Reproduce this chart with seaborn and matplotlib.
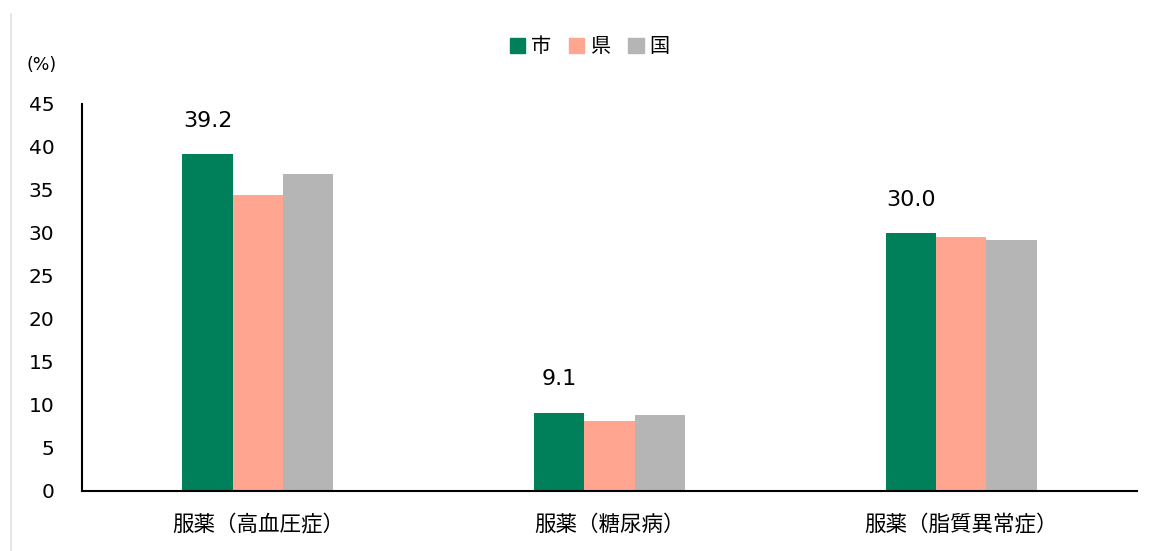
import pandas as pd
import matplotlib.pyplot as plt
import matplotlib.patches as mpatches
import seaborn as sns

sns.set_style("white")
plt.rcParams["font.family"] = ["DejaVu Sans", "Noto Sans CJK JP"]
plt.rcParams["text.color"] = "black"
plt.rcParams["xtick.color"] = "black"
plt.rcParams["ytick.color"] = "black"

# データ
categories = ["服薬（高血圧症）", "服薬（糖尿病）", "服薬（脂質異常症）"]
areas = ["市", "県", "国"]
shi = [39.2, 9.1, 30.0]
ken = [34.4, 8.1, 29.5]
kuni = [36.9, 8.8, 29.2]
colors = ["#00805A", "#FFA590", "#B5B5B5"]

df = pd.DataFrame({
    "項目": categories * 3,
    "地域": ["市"] * 3 + ["県"] * 3 + ["国"] * 3,
    "割合": shi + ken + kuni,
})

fig = plt.figure(figsize=(11.54, 5.51), dpi=100)
ax = fig.add_axes([0.0711, 0.1089, 0.9142, 0.7024])

sns.barplot(data=df, x="項目", y="割合", hue="地域", hue_order=areas,
            palette=colors, width=0.43, gap=0, saturation=1, ax=ax,
            legend=False, errorbar=None, linewidth=0)

ax.set_ylim(0, 45)
ax.set_xlim(-0.5, 2.5)
ax.set_yticks(range(0, 46, 5))
ax.set_xlabel("")
ax.set_ylabel("")
ax.tick_params(axis="y", length=0, pad=20, labelsize=14.5)
ax.tick_params(axis="x", length=0, pad=17, labelsize=15.5)
for s in ["top", "right"]:
    ax.spines[s].set_visible(False)
for s in ["left", "bottom"]:
    ax.spines[s].set_color("black")
    ax.spines[s].set_linewidth(1.5)

# 市のみラベル
for i, v in enumerate(shi):
    ax.annotate(f"{v:.1f}", xy=(i - 0.143, v), xytext=(0, 24),
                textcoords="offset points", ha="center", va="center",
                fontsize=16)

fig.text(0.023, 0.882, "(%)", fontsize=12.5, ha="left", va="center")

handles = [mpatches.Patch(color=c, label=a) for c, a in zip(colors, areas)]
fig.legend(handles=handles, loc="center", bbox_to_anchor=(0.511, 0.915),
           ncol=3, frameon=False, fontsize=14.5, handlelength=0.75,
           handleheight=0.75, handletextpad=0.3, columnspacing=0.9)

fig.add_artist(plt.Line2D([0.0095, 0.0095], [0.0, 0.975], color="#E0E0E0",
                          linewidth=1.2, transform=fig.transFigure))

fig.savefig("out.png", dpi=100)
